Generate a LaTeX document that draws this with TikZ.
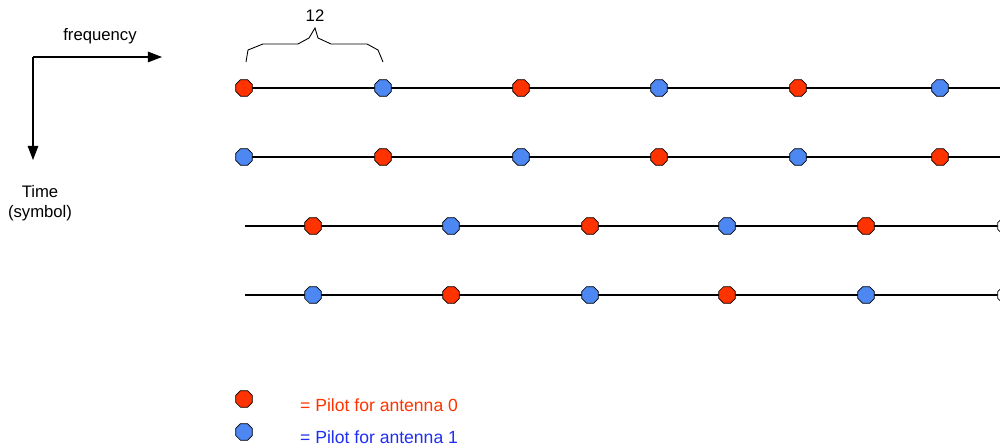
\documentclass[tikz,border=0pt]{standalone}
\usepackage{fontspec}
\setmainfont{Liberation Sans}
\usetikzlibrary{arrows.meta,shapes.geometric}
\definecolor{pilotred}{HTML}{FF3300}
\definecolor{pilotblue}{HTML}{4D88F2}
\definecolor{textblue}{HTML}{1F2EF0}
\tikzstyle{pilot}=[regular polygon,regular polygon sides=8,minimum size=0.36cm,inner sep=0pt,draw=black,line width=0.4pt]
\tikzstyle{ant0}=[pilot,fill=pilotred]
\tikzstyle{ant1}=[pilot,fill=pilotblue]

\begin{document}
\begin{tikzpicture}[x=0.02cm,y=-0.02cm,font=\fontsize{9.5}{11.5}\selectfont]
	\tikzstyle{carrier}=[line width=0.6pt]
	\tikzstyle{axis}=[line width=0.6pt,-{Triangle[length=8pt,width=6pt]}]
	\useasboundingbox (0,0) rectangle (1000,448);

	% time / frequency axes
	\coordinate (origin) at (33,57);
	\coordinate (freqend) at (162,57);
	\coordinate (timeend) at (33,160);
	\draw[axis] (origin) -- (freqend);
	\draw[axis] (origin) -- (timeend);
	\node (freq) at (100,36) {frequency};
	\node[align=center] (time) at (40,203) {Time\\(symbol)};

	% spacing brace
	\draw[line width=0.5pt] (246,62) -- (248,50) -- (263,44) -- (298,44) -- (309,38) -- (315,28)
		-- (318,38) -- (331,44) -- (367,44) -- (378,50) -- (383,62);
	\node (spacing) at (315,16) {12};

	% symbol lines
	\coordinate (r1s) at (243,88);	\coordinate (r1e) at (1000,88);
	\coordinate (r2s) at (243,157);	\coordinate (r2e) at (1000,157);
	\coordinate (r3s) at (245,226);	\coordinate (r3e) at (1000,226);
	\coordinate (r4s) at (245,295);	\coordinate (r4e) at (1000,295);
	\draw[carrier] (r1s) -- (r1e);
	\draw[carrier] (r2s) -- (r2e);
	\draw[carrier] (r3s) -- (r3e);
	\draw[carrier] (r4s) -- (r4e);

	% symbol 0
	\node[ant0] (p11) at (244,88) {};
	\node[ant1] (p12) at (383,88) {};
	\node[ant0] (p13) at (521,88) {};
	\node[ant1] (p14) at (659,88) {};
	\node[ant0] (p15) at (798,88) {};
	\node[ant1] (p16) at (940,88) {};
	% symbol 1
	\node[ant1] (p21) at (244,157) {};
	\node[ant0] (p22) at (383,157) {};
	\node[ant1] (p23) at (521,157) {};
	\node[ant0] (p24) at (659,157) {};
	\node[ant1] (p25) at (798,157) {};
	\node[ant0] (p26) at (940,157) {};
	% symbol 2
	\node[ant0] (p31) at (313,226) {};
	\node[ant1] (p32) at (451,226) {};
	\node[ant0] (p33) at (590,226) {};
	\node[ant1] (p34) at (727,226) {};
	\node[ant0] (p35) at (866,226) {};
	\node[pilot,fill=white] (p36) at (1006,226) {};
	% symbol 3
	\node[ant1] (p41) at (313,295) {};
	\node[ant0] (p42) at (451,295) {};
	\node[ant1] (p43) at (590,295) {};
	\node[ant0] (p44) at (727,295) {};
	\node[ant1] (p45) at (866,295) {};
	\node[pilot,fill=white] (p46) at (1006,295) {};

	% legend
	\node[ant0] (key0) at (244,399) {};
		\node[anchor=west,text=pilotred,font=\fontsize{10}{12}\selectfont] (lab0) at (294,405) {= Pilot for antenna 0};
	\node[ant1] (key1) at (244,432) {};
		\node[anchor=west,text=textblue,font=\fontsize{10}{12}\selectfont] (lab1) at (294,437) {= Pilot for antenna 1};
\end{tikzpicture}
\end{document}
